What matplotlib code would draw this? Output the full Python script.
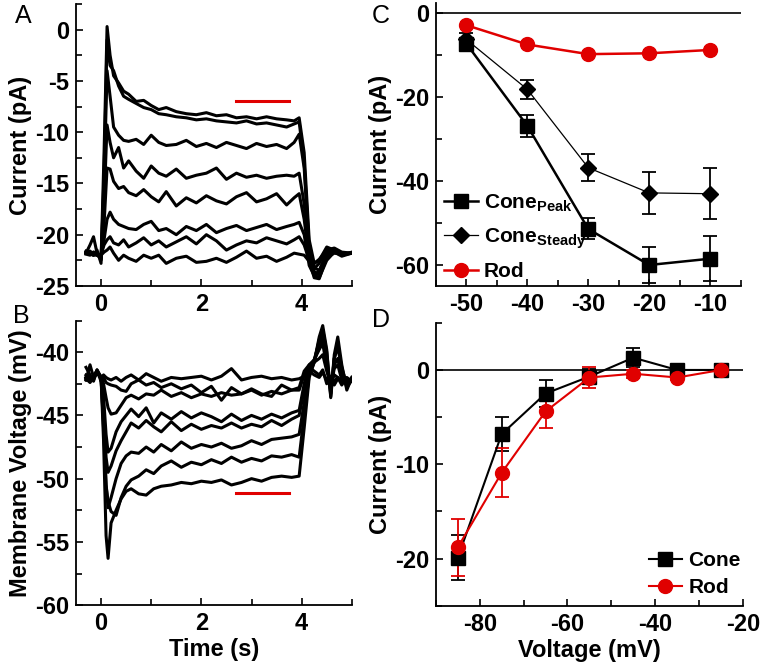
import matplotlib
matplotlib.use("Agg")
import matplotlib.pyplot as plt
from matplotlib.ticker import MultipleLocator
from matplotlib.lines import Line2D

plt.rcParams['font.family'] = ['Liberation Sans', 'DejaVu Sans']
plt.rcParams['font.weight'] = 'bold'
plt.rcParams['axes.labelweight'] = 'bold'
plt.rcParams['axes.unicode_minus'] = False
plt.rcParams['mathtext.fontset'] = 'custom'
plt.rcParams['mathtext.rm'] = 'Liberation Sans:bold'
plt.rcParams['mathtext.bf'] = 'Liberation Sans:bold'

RED = '#e00000'

# ---- panel A: current traces (pA) ----
tA = [-0.3, -0.22, -0.15, -0.08, 0.0, 0.06, 0.12, 0.18, 0.25, 0.35, 0.45, 0.55, 0.7, 0.85,
      1.0, 1.15, 1.3, 1.5, 1.7, 1.9, 2.1, 2.3, 2.5, 2.7, 2.9, 3.1, 3.3, 3.5, 3.7, 3.85,
      3.95, 4.05, 4.15, 4.25, 4.35, 4.5, 4.65, 4.8, 5.0]
iA1 = [-21.8, -21.0, -20.2, -21.8, -22.5, -12, 0.3, -2.5, -4.5, -5.2, -6.0, -6.3, -7.0, -6.9,
       -7.4, -7.8, -7.6, -8.0, -8.2, -8.3, -8.1, -8.4, -8.3, -8.6, -8.5, -8.7, -8.5, -8.7, -8.8, -8.9,
       -8.6, -12.0, -20.5, -22.8, -22.5, -21.2, -21.5, -21.8, -21.8]
iA2 = [-21.6, -21.8, -22.0, -21.5, -22.8, -14, -1.0, -3.5, -4.0, -5.5, -6.5, -6.8, -7.2, -7.6,
       -7.8, -8.2, -8.3, -8.5, -8.6, -8.8, -8.7, -8.9, -9.0, -9.1, -8.9, -9.2, -9.1, -9.3, -9.5, -9.2,
       -9.0, -13, -21.2, -23.2, -23.5, -21.8, -21.4, -22.0, -21.7]
iA3 = [-21.9, -22.0, -21.7, -21.9, -22.4, -15, -4.0, -6.5, -9.5, -10.3, -10.8, -10.9, -10.7, -11.2,
       -10.3, -11.0, -11.3, -11.2, -10.8, -11.4, -11.1, -11.5, -11.0, -11.3, -11.6, -11.1, -11.4, -11.2, -11.6, -11.0,
       -10.2, -13.5, -21.5, -23.6, -23.9, -22.3, -21.6, -21.9, -21.8]
iA4 = [-21.8, -21.9, -22.0, -21.8, -22.3, -17, -9.3, -11.0, -12.5, -11.5, -13.5, -12.8, -13.8, -14.5,
       -13.3, -14.0, -14.3, -13.6, -14.5, -14.2, -14.0, -13.5, -14.6, -14.0, -14.4, -14.2, -14.5, -14.3, -14.2, -14.3,
       -14.0, -17, -22, -23.9, -24.2, -22.5, -21.7, -22.1, -21.8]
iA5 = [-21.7, -21.8, -21.9, -22.0, -22.2, -19, -13.5, -13.6, -14.8, -15.5, -15.3, -15.9, -16.2, -15.6,
       -16.3, -16.8, -15.8, -17.2, -16.4, -16.9, -16.2, -16.7, -17.0, -16.3, -15.9, -16.8, -16.5, -16.0, -17.1, -16.4,
       -16.0, -18.5, -22.5, -24.2, -24.3, -22.2, -21.8, -21.9, -21.8]
iA6 = [-21.8, -21.8, -22.0, -21.9, -22.1, -20.5, -18.5, -17.8, -18.5, -19.0, -19.2, -19.4, -19.5, -19.0,
       -18.7, -19.6, -19.4, -20.0, -19.2, -19.6, -19.0, -19.8, -19.4, -19.1, -19.6, -19.3, -19.0, -19.5, -19.2, -19.0,
       -18.8, -20, -23, -24.0, -23.5, -22.0, -21.6, -22.0, -21.8]
iA7 = [-21.8, -21.9, -21.7, -22.0, -22.0, -21.0, -20.5, -20.2, -20.8, -21.0, -20.5, -21.2, -20.8, -20.3,
       -21.0, -20.6, -21.2, -20.7, -20.2, -20.9, -20.0, -20.6, -21.5, -21.0, -20.6, -20.8, -20.3, -20.6, -20.9, -20.5,
       -20.2, -21.0, -22.5, -23.3, -22.8, -21.5, -21.3, -21.7, -21.8]
iA8 = [-21.8, -21.6, -21.9, -22.0, -22.0, -21.7, -21.5, -21.2, -21.8, -22.5, -22.0, -22.3, -22.6, -22.0,
       -22.3, -22.0, -22.8, -22.3, -22.1, -22.7, -22.6, -22.3, -22.7, -22.2, -21.6, -22.3, -22.1, -22.6, -22.2, -21.8,
       -21.9, -22.0, -22.6, -22.8, -22.4, -21.5, -21.6, -21.9, -21.8]
tracesA = [iA1, iA2, iA3, iA4, iA5, iA6, iA7, iA8]
barA_t = [2.7, 3.75]
barA_y = -7.0

# ---- panel B: membrane voltage traces (mV) ----
tB = [-0.3, -0.22, -0.15, -0.08, 0.0, 0.05, 0.1, 0.14, 0.2, 0.3, 0.4, 0.5, 0.6, 0.75, 0.9,
      1.05, 1.2, 1.4, 1.6, 1.8, 2.0, 2.2, 2.4, 2.6, 2.8, 3.0, 3.2, 3.4, 3.6, 3.8, 3.95,
      4.05, 4.15, 4.25, 4.35, 4.42, 4.5, 4.58, 4.65, 4.72, 4.8, 4.9, 5.0]
vB1 = [-42.2, -41.0, -42.0, -41.6, -42.0, -41.8, -42.0, -42.1, -42.2, -42.0, -42.3, -42.0, -41.8, -42.2, -41.7,
       -42.0, -42.3, -42.0, -42.1, -42.0, -41.9, -42.2, -41.9, -41.3, -42.2, -42.0, -41.9, -42.1, -42.0, -42.2, -42.1,
       -41.9, -41.5, -41.8, -42.0, -41.6, -42.2, -41.9, -42.3, -42.0, -42.4, -42.1, -42.3]
vB2 = [-42.0, -42.2, -41.8, -41.5, -42.3, -42.0, -42.4, -42.5, -42.6, -42.7, -43.0, -43.1, -42.5, -42.2, -42.6,
       -42.4, -42.8, -42.5, -42.9, -42.6, -43.2, -42.7, -43.8, -42.8, -43.3, -43.0, -43.4, -43.1, -43.3, -43.0, -43.0,
       -41.8, -41.2, -41.5, -41.8, -41.4, -42.5, -42.0, -42.6, -42.1, -42.3, -42.2, -42.2]
vB3 = [-42.1, -42.4, -42.0, -41.7, -41.9, -42.5, -43.6, -44.4, -44.9, -44.8, -44.2, -43.6, -43.4, -43.7, -43.3,
       -43.4, -43.0, -43.5, -43.2, -43.6, -43.3, -43.5, -43.2, -43.4, -43.3, -42.9, -43.3, -43.5, -42.6, -43.0, -42.8,
       -41.5, -41.0, -40.8, -40.5, -40.2, -41.5, -42.5, -41.8, -42.0, -42.6, -42.0, -42.3]
vB4 = [-42.0, -42.3, -41.9, -41.5, -42.0, -43.5, -46.5, -47.9, -47.6, -46.3, -45.5, -45.0, -44.5, -45.1, -44.4,
       -45.6, -44.8, -45.3, -44.7, -45.2, -44.8, -45.1, -45.5, -44.9, -45.4, -45.0, -45.3, -44.9, -45.2, -44.8, -44.6,
       -42.5, -41.0, -40.6, -39.8, -39.3, -41.2, -42.8, -41.3, -41.0, -42.2, -42.4, -42.1]
vB5 = [-42.2, -41.9, -42.1, -41.4, -42.0, -44.5, -48.3, -49.5, -49.0, -47.8, -47.0, -46.3, -45.6, -46.0, -45.4,
       -45.9, -46.3, -45.5, -46.2, -45.7, -46.1, -45.8, -46.0, -45.6, -46.0, -45.7, -45.9, -45.4, -45.8, -45.3, -45.0,
       -43.0, -41.2, -40.7, -39.5, -38.8, -40.8, -43.0, -41.0, -40.5, -42.0, -42.6, -42.0]
vB6 = [-41.8, -42.0, -42.2, -41.5, -42.1, -45.5, -50.5, -52.3, -51.5, -50.0, -48.8, -48.2, -47.9, -48.0, -47.5,
       -47.9, -47.3, -47.8, -47.1, -47.6, -47.3, -47.5, -47.2, -47.6, -47.4, -47.0, -47.3, -46.9, -46.8, -46.7, -46.5,
       -44.0, -41.5, -40.6, -39.2, -38.5, -40.5, -43.3, -40.5, -39.5, -41.5, -42.8, -42.2]
vB7 = [-42.0, -42.2, -41.8, -41.6, -42.0, -46.0, -50.5, -51.8, -52.6, -52.9, -51.5, -50.6, -50.1, -49.8, -49.3,
       -49.6, -49.0, -48.6, -49.1, -48.7, -48.9, -48.5, -48.8, -48.3, -48.7, -48.4, -48.6, -48.2, -48.3, -48.1, -48.3,
       -45.0, -41.8, -40.8, -39.0, -38.2, -40.0, -43.5, -40.2, -38.8, -41.0, -43.0, -42.0]
vB8 = [-41.2, -41.8, -42.3, -41.4, -42.0, -47.0, -54.5, -56.3, -53.5, -52.5, -51.6, -51.0, -50.8, -51.2, -51.3,
       -50.8, -50.6, -50.5, -50.3, -50.4, -50.2, -50.3, -50.1, -50.5, -50.3, -50.0, -50.2, -49.9, -49.8, -49.9, -49.8,
       -46.0, -42.0, -40.8, -38.8, -37.9, -39.8, -43.6, -40.5, -39.5, -41.2, -42.6, -42.2]
tracesB = [vB1, vB2, vB3, vB4, vB5, vB6, vB7, vB8]
barB_t = [2.7, 3.75]
barB_y = -51.1

# ---- panel C: I-V, step voltages (mV) ----
vC = [-50, -40, -30, -20, -10]
cone_peak = [-7.2, -26.8, -51.4, -60.0, -58.5]
cone_peak_err = [1.0, 2.6, 2.5, 4.2, 5.3]
cone_steady = [-6.2, -18.1, -36.8, -42.8, -43.0]
cone_steady_err = [1.5, 2.3, 3.2, 5.0, 6.1]
rod_c = [-2.8, -7.4, -9.7, -9.5, -8.7]
rod_c_err = [0.8, 0.8, 0.8, 0.8, 0.8]

# ---- panel D ----
vD = [-85, -75, -65, -55, -45, -35, -25]
cone_d = [-19.9, -6.8, -2.5, -0.7, 1.3, 0.0, 0.0]
cone_d_err = [2.4, 1.8, 1.4, 0.8, 1.0, 0.3, 0.2]
rod_d = [-18.8, -10.9, -4.4, -0.8, -0.4, -0.8, 0.0]
rod_d_err = [3.0, 2.6, 1.8, 1.1, 0.4, 0.3, 0.2]

FS = 17

fig = plt.figure(figsize=(7.62, 6.65), dpi=100)
axA = fig.add_axes([0.0997, 0.570, 0.362, 0.424])
axB = fig.add_axes([0.0997, 0.090, 0.362, 0.428])
axC = fig.add_axes([0.572, 0.570, 0.400, 0.4255])
axD = fig.add_axes([0.572, 0.089, 0.403, 0.4256])


def style(ax):
    for s in ['top', 'right']:
        ax.spines[s].set_visible(False)
    for s in ['left', 'bottom']:
        ax.spines[s].set_linewidth(1.3)
    ax.tick_params(which='both', direction='in', width=1.2, labelsize=FS, pad=5)
    ax.tick_params(which='major', length=5)
    ax.tick_params(which='minor', length=4)


# A
for tr in tracesA:
    axA.plot(tA, tr, color='black', lw=2.2)
axA.plot(barA_t, [barA_y, barA_y], color=RED, lw=2.2)
axA.set_xlim(-0.5, 5)
axA.set_ylim(-25, 2.5)
axA.xaxis.set_major_locator(MultipleLocator(2))
axA.xaxis.set_minor_locator(MultipleLocator(1))
axA.yaxis.set_major_locator(MultipleLocator(5))
axA.yaxis.set_minor_locator(MultipleLocator(2.5))
axA.set_ylabel('Current (pA)', fontsize=FS, labelpad=2)
style(axA)

# B
for tr in tracesB:
    axB.plot(tB, tr, color='black', lw=2.2)
axB.plot(barB_t, [barB_y, barB_y], color=RED, lw=2.2)
axB.set_xlim(-0.5, 5)
axB.set_ylim(-60, -37.5)
axB.xaxis.set_major_locator(MultipleLocator(2))
axB.xaxis.set_minor_locator(MultipleLocator(1))
axB.yaxis.set_major_locator(MultipleLocator(5))
axB.yaxis.set_minor_locator(MultipleLocator(2.5))
axB.set_xlabel('Time (s)', fontsize=FS, labelpad=2)
axB.set_ylabel('Membrane Voltage (mV)', fontsize=FS, labelpad=2)
style(axB)

# C
axC.axhline(0, color='black', lw=1.2, zorder=1)
axC.errorbar(vC, cone_peak, yerr=cone_peak_err, color='black', lw=1.8, marker='s', ms=10,
             capsize=5, elinewidth=1.3, capthick=1.3)
axC.errorbar(vC, cone_steady, yerr=cone_steady_err, color='black', lw=0.9, marker='D', ms=8,
             capsize=5, elinewidth=1.3, capthick=1.3)
axC.errorbar(vC, rod_c, yerr=rod_c_err, color=RED, lw=1.8, marker='o', ms=10,
             capsize=4, elinewidth=1.3, capthick=1.3)
axC.set_xlim(-55, -5)
axC.set_ylim(-65, 2.5)
axC.xaxis.set_major_locator(MultipleLocator(10))
axC.xaxis.set_minor_locator(MultipleLocator(5))
axC.yaxis.set_major_locator(MultipleLocator(20))
axC.yaxis.set_minor_locator(MultipleLocator(10))
axC.set_ylabel('Current (pA)', fontsize=FS, labelpad=2)
hC = [Line2D([], [], color='black', lw=1.8, marker='s', ms=10),
      Line2D([], [], color='black', lw=0.9, marker='D', ms=8),
      Line2D([], [], color=RED, lw=1.8, marker='o', ms=10)]
axC.legend(hC, [r'Cone$_{\mathrm{Peak}}$', r'Cone$_{\mathrm{Steady}}$', 'Rod'],
           loc='lower left', bbox_to_anchor=(0.0, -0.012), frameon=False,
           prop={'size': 15, 'weight': 'bold'},
           handlelength=1.6, handletextpad=0.3, borderaxespad=0.0, labelspacing=0.55)
style(axC)

# D
axD.axhline(0, color='black', lw=1.2, zorder=1)
axD.errorbar(vD, cone_d, yerr=cone_d_err, color='black', lw=1.5, marker='s', ms=10,
             capsize=5, elinewidth=1.3, capthick=1.3)
axD.errorbar(vD, rod_d, yerr=rod_d_err, color=RED, lw=1.5, marker='o', ms=10,
             capsize=5, elinewidth=1.3, capthick=1.3)
axD.set_xlim(-90, -20)
axD.set_ylim(-25, 5)
axD.xaxis.set_major_locator(MultipleLocator(20))
axD.xaxis.set_minor_locator(MultipleLocator(10))
axD.yaxis.set_major_locator(MultipleLocator(10))
axD.yaxis.set_minor_locator(MultipleLocator(5))
axD.set_xlabel('Voltage (mV)', fontsize=FS, labelpad=2)
axD.set_ylabel('Current (pA)', fontsize=FS, labelpad=2)
hD = [Line2D([], [], color='black', lw=1.5, marker='s', ms=10),
      Line2D([], [], color=RED, lw=1.5, marker='o', ms=10)]
axD.legend(hD, ['Cone', 'Rod'], loc='lower right', bbox_to_anchor=(1.02, 0.0), frameon=False,
           prop={'size': 15, 'weight': 'bold'},
           handlelength=1.6, handletextpad=0.3, borderaxespad=0.0, labelspacing=0.4)
style(axD)

# panel letters
for lab, x, y in [('A', 0.031, 0.976), ('B', 0.028, 0.525), ('C', 0.500, 0.976), ('D', 0.500, 0.519)]:
    fig.text(x, y, lab, fontsize=18, fontweight='normal', ha='center', va='center')

fig.savefig('out.png', dpi=100)
